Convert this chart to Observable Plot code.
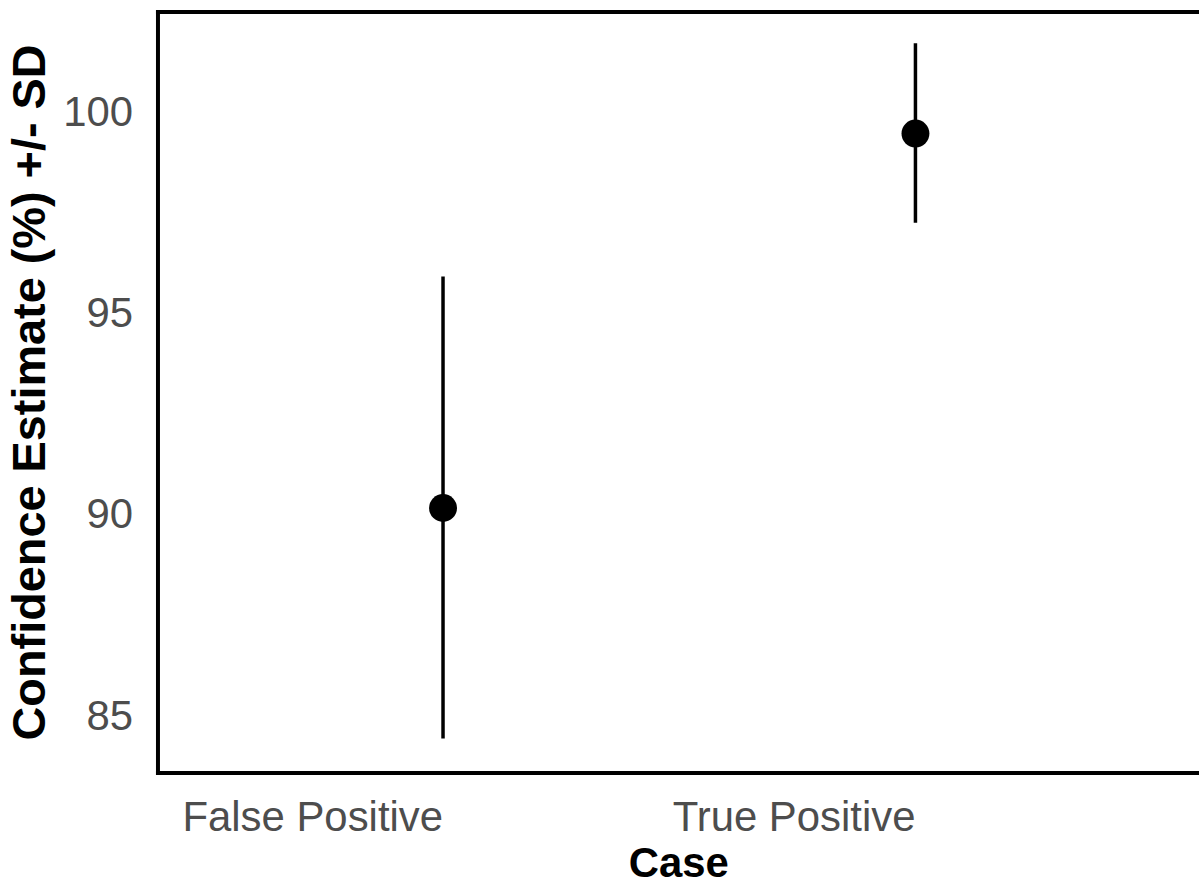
<!DOCTYPE html>
<html>
<head>
<meta charset="utf-8">
<script src="https://cdn.jsdelivr.net/npm/d3@7"></script>
<script src="https://cdn.jsdelivr.net/npm/@observablehq/plot@0.6"></script>
<style>
  html, body { margin: 0; padding: 0; background: #fff; overflow: hidden; }
  #chart svg { display: block; }
</style>
</head>
<body>
<div id="chart"></div>
<script>
// Mean confidence estimate per case type, with its standard deviation
const cases = ["False Positive", "True Positive"];
const means = [90.17, 99.47];
const sds = [5.74, 2.23];
const yTicks = [85, 90, 95, 100];
const yDomain = [83.59, 102.49];

const rows = cases.map((c, i) => ({
  case: c,
  mean: means[i],
  lo: means[i] - sds[i],
  hi: means[i] + sds[i]
}));

const grey = "#4D4D4D";
const font = "'Liberation Sans', Arial, Helvetica, sans-serif";

const chart = Plot.plot({
  width: 1203,
  height: 888,
  marginLeft: 158,
  marginRight: 0,
  marginTop: 11.5,
  marginBottom: 113,
  style: { fontFamily: font, background: "#fff", color: "#000" },
  x: { type: "point", domain: cases, padding: 0.6, axis: null },
  y: { domain: yDomain, axis: null },
  marks: [
    // y axis tick labels (no tick marks)
    Plot.axisY({
      ticks: yTicks, tickSize: 0, tickPadding: 25, fontSize: 42,
      color: grey, label: null
    }),
    // x axis labels, right-aligned to each category position
    Plot.axisX({
      tickSize: 0, tickPadding: 28, fontSize: 42, textAnchor: "end",
      color: grey, label: null
    }),
    // panel border: left, top and bottom sides
    Plot.frame({ anchor: "left", strokeWidth: 4 }),
    Plot.frame({ anchor: "top", strokeWidth: 4 }),
    Plot.frame({ anchor: "bottom", strokeWidth: 4 }),
    // mean ± SD error bars
    Plot.ruleX(rows, { x: "case", y1: "lo", y2: "hi", stroke: "#000", strokeWidth: 3.5 }),
    // means
    Plot.dot(rows, { x: "case", y: "mean", r: 14, fill: "#000", stroke: null }),
    // axis titles
    Plot.text(["Case"], {
      text: d => d, frameAnchor: "bottom", dy: 104,
      fontSize: 42, fontWeight: "bold", fill: "#000"
    }),
    Plot.text(["Confidence Estimate (%) +/- SD"], {
      text: d => d, frameAnchor: "left", rotate: -90, dx: -128,
      textAnchor: "middle", lineAnchor: "middle",
      fontSize: 47, fontWeight: "bold", fill: "#000"
    })
  ]
});

document.getElementById("chart").appendChild(chart);
</script>
</body>
</html>
